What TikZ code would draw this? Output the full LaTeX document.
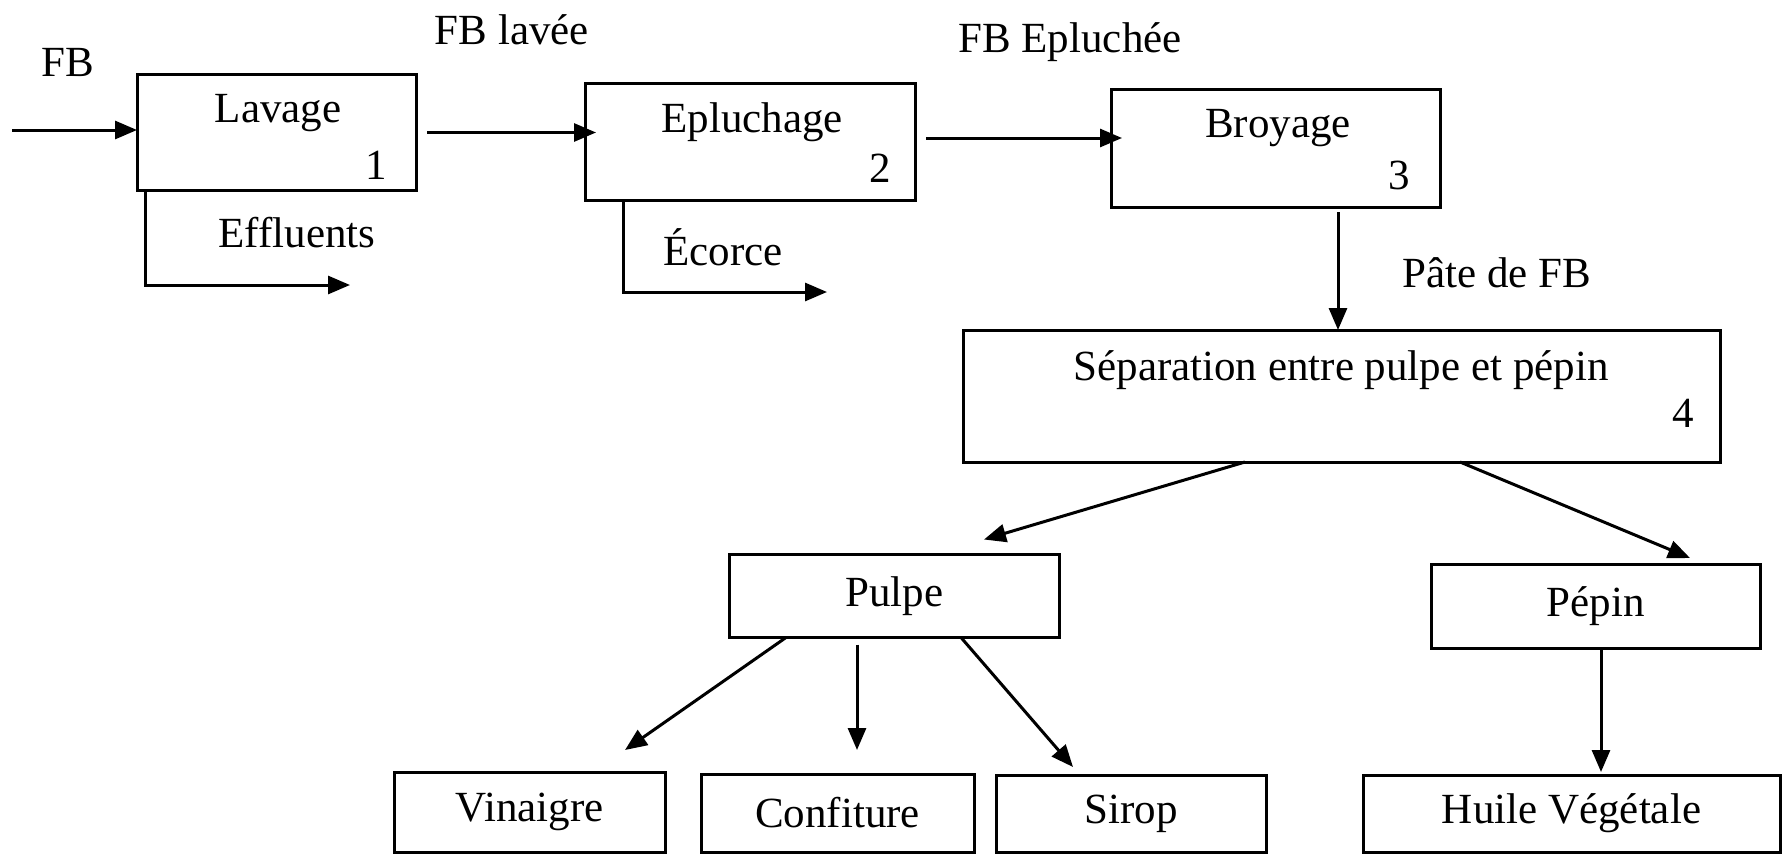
\documentclass[tikz,border=0pt]{standalone}
\usepackage{fontspec}
\setmainfont{Liberation Serif}
\usetikzlibrary{arrows.meta,calc}
\begin{document}
\begin{tikzpicture}[x=1pt,y=-1pt,
  box/.style={draw,line width=3pt,inner sep=0pt,outer sep=0pt},
  txt/.style={inner sep=0pt},
  arr/.style={line width=3pt,-{Triangle[length=22pt,width=18pt]}},
  every node/.append style={font=\fontsize{43}{50}\selectfont}]
\useasboundingbox (0,0) rectangle (1784,856);
% process boxes
\node[box,minimum width=279pt,minimum height=115pt] (lav) at (276.5,132.5) {};
\node[box,minimum width=330pt,minimum height=116pt] (epl) at (750,142) {};
\node[box,minimum width=329pt,minimum height=117pt] (broy) at (1275.5,148.5) {};
\node[box,minimum width=757pt,minimum height=132pt] (sep) at (1341.5,396) {};
\node[box,minimum width=330pt,minimum height=83pt] (pulpe) at (894.5,596) {Pulpe};
\node[box,minimum width=329pt,minimum height=84pt] (pepin) at (1595.5,606) {Pépin};
\node[box,minimum width=271pt,minimum height=80pt] (vin) at (529.5,812) {Vinaigre};
\node[box,minimum width=273pt,minimum height=78pt] (conf) at (837.5,813) {Confiture};
\node[box,minimum width=270pt,minimum height=77pt] (sirop) at (1131,813.5) {Sirop};
\node[box,minimum width=417pt,minimum height=77pt] (huile) at (1571.5,813.5) {Huile Végétale};
% texts inside boxes
\node[txt] (tlav) at (278,113) {Lavage};
\node[txt] (nlav) at (376,165) {1};
\node[txt] (tepl) at (752,122) {Epluchage};
\node[txt] (nepl) at (880,168) {2};
\node[txt] (tbroy) at (1278,128) {Broyage};
\node[txt] (nbroy) at (1399,175) {3};
\node[txt] (tsep) at (1341,370) {Séparation entre pulpe et pépin};
\node[txt] (nsep) at (1683,413) {4};
% flow labels
\node[txt] (lfb) at (68,62) {FB};
\node[txt] (llav) at (512,30) {FB lavée};
\node[txt] (lepl) at (1070,42) {FB Epluchée};
\node[txt] (leff) at (297,233) {Effluents};
\node[txt] (lecor) at (723,247) {Écorce};
\node[txt] (lpate) at (1497,273) {Pâte de FB};
% free ends
\coordinate (in) at (12,130);
\coordinate (effend) at (350,285);
\coordinate (ecorend) at (827,292);
% connectors
\draw[arr] (in) -- (in -| lav.west);
\draw[arr] ([xshift=11pt]lav.east) -- ([xshift=11pt]lav.east -| epl.west);
\draw[arr] ([xshift=11pt,yshift=4pt]epl.east) -- ([xshift=11pt,yshift=4pt]epl.east -| broy.west);
\draw[arr] ([xshift=62.5pt,yshift=-5pt]broy.south) -- ([xshift=62.5pt]broy.south |- sep.north);
\draw[arr] ([xshift=8pt]lav.south west) |- (effend);
\draw[arr] ([xshift=38pt]epl.south west) |- (ecorend);
\draw[arr] ([xshift=-96.5pt]sep.south) -- ([xshift=89.5pt,yshift=15pt]pulpe.north);
\draw[arr] ([xshift=118.5pt]sep.south) -- ([xshift=94.5pt,yshift=6pt]pepin.north);
\draw[arr] ([xshift=-108.5pt]pulpe.south) -- ([xshift=95.5pt,yshift=22pt]vin.north);
\draw[arr] ([xshift=-37.5pt,yshift=-7pt]pulpe.south) -- ([xshift=19.5pt,yshift=24pt]conf.north);
\draw[arr] ([xshift=66.5pt]pulpe.south) -- ([xshift=-58pt,yshift=8pt]sirop.north);
\draw[arr] ([xshift=5.5pt,yshift=-2pt]pepin.south) -- ([xshift=29.5pt,yshift=3pt]huile.north);
\end{tikzpicture}
\end{document}
